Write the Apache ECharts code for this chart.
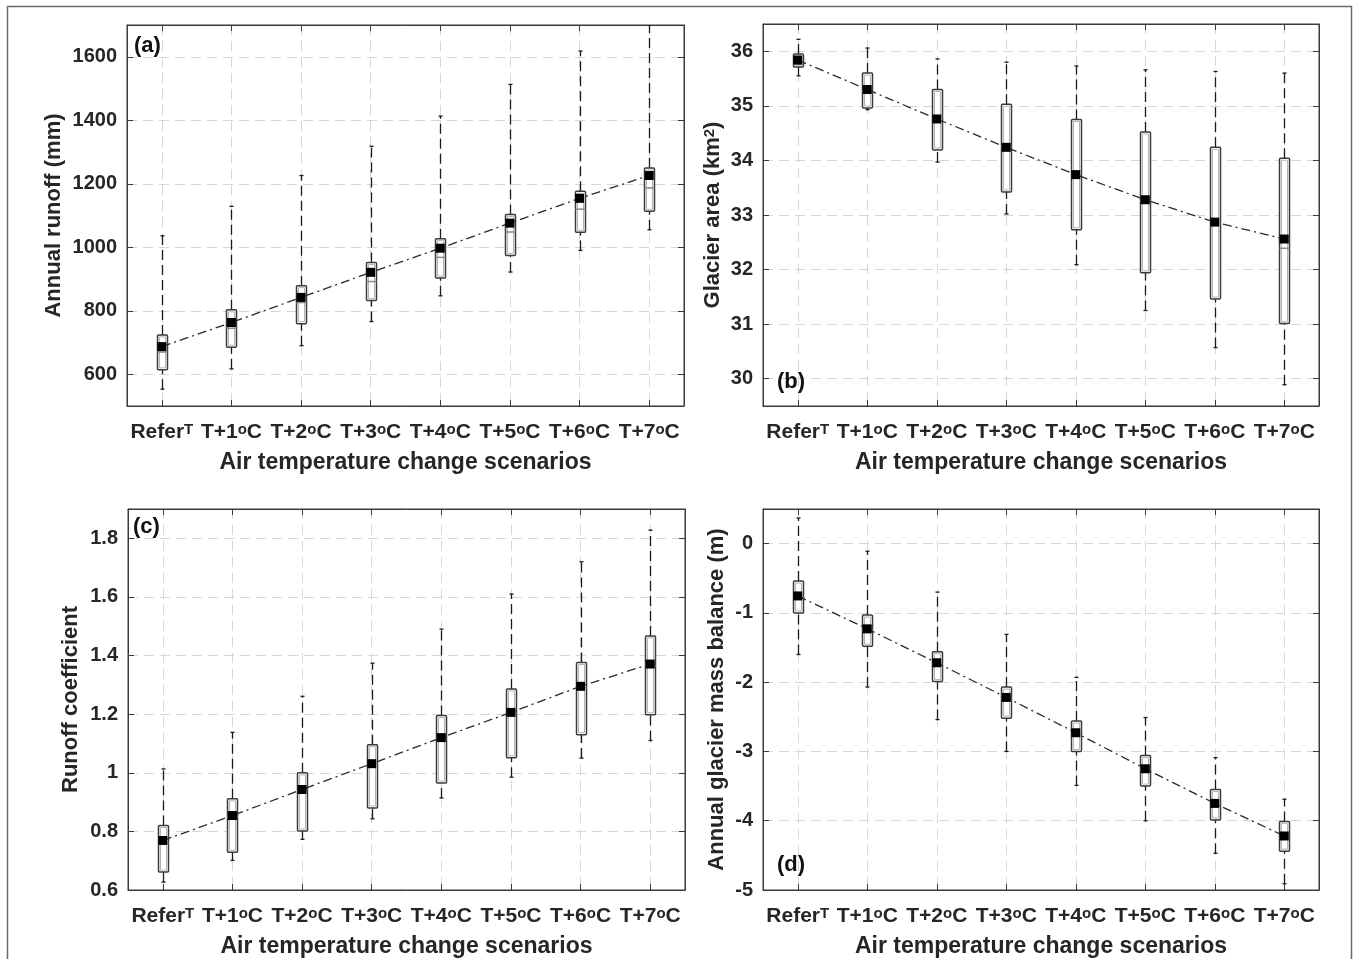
<!DOCTYPE html>
<html>
<head>
<meta charset="utf-8">
<title>Air temperature change scenarios</title>
<script src="https://cdn.jsdelivr.net/npm/echarts@6/dist/echarts.min.js"></script>
<style>
  html, body { margin: 0; padding: 0; background: #fff; }
  #chart { width: 1357px; height: 959px; }
</style>
</head>
<body>
<div id="chart"></div>
<script>
// Scenario tick labels (rich-text markup for the superscripts)
const scenarioLabels = ['Refer{sup|T}', 'T+1{sup|o}C', 'T+2{sup|o}C', 'T+3{sup|o}C',
                        'T+4{sup|o}C', 'T+5{sup|o}C', 'T+6{sup|o}C', 'T+7{sup|o}C'];

// (a) Annual runoff (mm)
const runoffLow    = [553, 617, 690, 766, 847, 922, 990, 1055];
const runoffQ1     = [614, 685, 759, 832, 903, 974, 1047, 1113];
const runoffMedian = [670, 745, 826, 892, 968, 1048, 1120, 1187];
const runoffQ3     = [724, 803, 879, 952, 1027, 1103, 1176, 1250];
const runoffHigh   = [1036, 1129, 1226, 1318, 1413, 1513, 1618, 1700];
const runoffMean   = [687, 763, 842, 921, 997, 1076, 1154, 1226];

// (b) Glacier area (km2)
const areaLow    = [35.55, 34.93, 33.97, 33.02, 32.09, 31.25, 30.57, 29.89];
const areaQ1     = [35.71, 34.96, 34.19, 33.42, 32.73, 31.94, 31.46, 31.01];
const areaMedian = [35.76, 35.26, 34.80, 34.25, 33.72, 33.26, 32.86, 32.39];
const areaQ3     = [35.95, 35.60, 35.30, 35.03, 34.75, 34.52, 34.24, 34.04];
const areaHigh   = [36.22, 36.06, 35.86, 35.80, 35.73, 35.66, 35.63, 35.60];
const areaMean   = [35.84, 35.30, 34.76, 34.24, 33.74, 33.28, 32.87, 32.56];

// (c) Runoff coefficient
const coefLow    = [0.627, 0.701, 0.773, 0.843, 0.914, 0.985, 1.050, 1.110];
const coefQ1     = [0.661, 0.729, 0.801, 0.880, 0.965, 1.051, 1.130, 1.198];
const coefMedian = [0.760, 0.850, 0.940, 1.030, 1.115, 1.200, 1.290, 1.365];
const coefQ3     = [0.820, 0.911, 1.000, 1.096, 1.195, 1.286, 1.376, 1.467];
const coefHigh   = [1.013, 1.138, 1.261, 1.374, 1.490, 1.610, 1.720, 1.828];
const coefMean   = [0.769, 0.854, 0.943, 1.031, 1.120, 1.206, 1.295, 1.371];

// (d) Annual glacier mass balance (m)
const balLow    = [-1.60, -2.07, -2.54, -3.00, -3.49, -4.00, -4.47, -4.91];
const balQ1     = [-1.00, -1.48, -1.99, -2.52, -3.00, -3.50, -3.99, -4.44];
const balMedian = [-0.78, -1.25, -1.74, -2.24, -2.75, -3.27, -3.77, -4.24];
const balQ3     = [-0.54, -1.03, -1.56, -2.07, -2.56, -3.06, -3.55, -4.01];
const balHigh   = [0.37, -0.11, -0.70, -1.31, -1.93, -2.51, -3.09, -3.69];
const balMean   = [-0.755, -1.23, -1.72, -2.22, -2.73, -3.25, -3.75, -4.22];

const FONT = '"Liberation Sans", Arial, Helvetica, sans-serif';
const TEXT = '#262626';

const panels = [
  { grid: { left: 127, top: 25, width: 557, height: 381 },
    y: { min: 500, max: 1700, splitNumber: 6, step: 200 },
    name: 'Annual runoff (mm)', nameGap: 62,
    low: runoffLow, q1: runoffQ1, med: runoffMedian, q3: runoffQ3, high: runoffHigh, mean: runoffMean },
  { grid: { left: 763, top: 24, width: 556, height: 382 },
    y: { min: 29.5, max: 36.5, splitNumber: 7, step: 1 },
    name: 'Glacier area (km{sup|2})', nameGap: 39,
    low: areaLow, q1: areaQ1, med: areaMedian, q3: areaQ3, high: areaHigh, mean: areaMean },
  { grid: { left: 128, top: 509, width: 557, height: 382 },
    y: { min: 0.6, max: 1.9, splitNumber: 6, step: 0.2 },
    name: 'Runoff coefficient', nameGap: 46,
    low: coefLow, q1: coefQ1, med: coefMedian, q3: coefQ3, high: coefHigh, mean: coefMean },
  { grid: { left: 763, top: 509, width: 556, height: 381 },
    y: { min: -5, max: 0.5, splitNumber: 5, step: 1 },
    name: 'Annual glacier mass balance (m)', nameGap: 35,
    low: balLow, q1: balQ1, med: balMedian, q3: balQ3, high: balHigh, mean: balMean }
];

const supStyle = { fontSize: 15, fontWeight: 'bold', fontFamily: FONT, color: TEXT, verticalAlign: 'top', lineHeight: 15 };

function isStep(v, step) {
  const r = v / step;
  return Math.abs(r - Math.round(r)) < 1e-6;
}

function renderBox(params, api) {
  const x = api.value(0);
  const pLow = api.coord([x, api.value(1)]);
  const pQ1 = api.coord([x, api.value(2)]);
  const pMed = api.coord([x, api.value(3)]);
  const pQ3 = api.coord([x, api.value(4)]);
  const pHigh = api.coord([x, api.value(5)]);
  const cx = Math.round(pQ1[0]) + 0.5;
  const hw = 5, cap = 2;
  const whisker = { stroke: '#1a1a1a', lineWidth: 1.3, lineDash: [10, 5] };
  return {
    type: 'group',
    children: [
      { type: 'line', shape: { x1: cx, y1: pQ3[1], x2: cx, y2: pHigh[1] }, style: whisker },
      { type: 'line', shape: { x1: cx, y1: pLow[1], x2: cx, y2: pQ1[1] }, style: whisker },
      { type: 'line', shape: { x1: cx - cap, y1: pHigh[1], x2: cx + cap, y2: pHigh[1] }, style: { stroke: '#1a1a1a', lineWidth: 1.3 } },
      { type: 'line', shape: { x1: cx - cap, y1: pLow[1], x2: cx + cap, y2: pLow[1] }, style: { stroke: '#1a1a1a', lineWidth: 1.3 } },
      { type: 'rect', shape: { x: cx - hw, y: pQ3[1], width: hw * 2, height: pQ1[1] - pQ3[1], r: 1 },
        style: { fill: '#fff', stroke: '#3a3a3a', lineWidth: 1.5 } },
      { type: 'rect', shape: { x: cx - hw + 2, y: pQ3[1] + 2, width: hw * 2 - 4, height: Math.max(0, pQ1[1] - pQ3[1] - 4) },
        style: { fill: 'none', stroke: '#b5b5b5', lineWidth: 1 } },
      { type: 'line', shape: { x1: cx - hw, y1: pMed[1], x2: cx + hw, y2: pMed[1] }, style: { stroke: '#8a8a8a', lineWidth: 1.5 } }
    ]
  };
}

const grid = [], xAxis = [], yAxis = [], series = [];

panels.forEach((p, i) => {
  grid.push(Object.assign({ show: true, borderColor: '#3a3a3a', borderWidth: 1, backgroundColor: '#fff' }, p.grid));

  // bottom axis: scenario index 1..8
  xAxis.push({
    type: 'value', gridIndex: i, min: 0.5, max: 8.5, splitNumber: 8,
    position: 'bottom',
    name: 'Air temperature change scenarios', nameLocation: 'middle', nameGap: 45,
    nameTextStyle: { fontFamily: FONT, fontWeight: 'bold', fontSize: 23, color: TEXT },
    axisLine: { show: true, onZero: false, lineStyle: { color: '#3a3a3a', width: 1 } },
    axisTick: { show: true, inside: true, length: 6, lineStyle: { color: '#3a3a3a' } },
    splitLine: { show: true, lineStyle: { color: '#d6d6d6', width: 1, type: [10, 6] } },
    axisLabel: {
      margin: 16, fontFamily: FONT, fontWeight: 'bold', fontSize: 21, color: TEXT,
      formatter: v => (isStep(v, 1) && v >= 1 && v <= 8) ? scenarioLabels[v - 1] : '',
      rich: { sup: supStyle }
    }
  });
  // mirrored ticks on top
  xAxis.push({
    type: 'value', gridIndex: i, min: 0.5, max: 8.5, splitNumber: 8, position: 'top',
    axisLine: { show: true, onZero: false, lineStyle: { color: '#3a3a3a' } },
    axisTick: { show: true, inside: true, length: 6, lineStyle: { color: '#3a3a3a' } },
    axisLabel: { show: false }, splitLine: { show: false }
  });

  yAxis.push({
    type: 'value', gridIndex: i, min: p.y.min, max: p.y.max, splitNumber: p.y.splitNumber,
    position: 'left',
    name: p.name, nameLocation: 'middle', nameGap: p.nameGap, nameRotate: 90,
    nameTextStyle: { fontFamily: FONT, fontWeight: 'bold', fontSize: 22, color: TEXT,
                     rich: { sup: { fontSize: 15, fontWeight: 'bold', fontFamily: FONT, color: TEXT, verticalAlign: 'top', lineHeight: 15 } } },
    axisLine: { show: true, onZero: false, lineStyle: { color: '#3a3a3a', width: 1 } },
    axisTick: { show: true, inside: true, length: 6, lineStyle: { color: '#3a3a3a' } },
    splitLine: { show: true, lineStyle: { color: '#d6d6d6', width: 1, type: [10, 6] } },
    axisLabel: {
      margin: 10, fontFamily: FONT, fontWeight: 'bold', fontSize: 20, color: TEXT,
      formatter: v => isStep(v, p.y.step) ? String(+v.toFixed(4)) : ''
    }
  });
  yAxis.push({
    type: 'value', gridIndex: i, min: p.y.min, max: p.y.max, splitNumber: p.y.splitNumber,
    position: 'right',
    axisLine: { show: true, onZero: false, lineStyle: { color: '#3a3a3a' } },
    axisTick: { show: true, inside: true, length: 6, lineStyle: { color: '#3a3a3a' } },
    axisLabel: { show: false }, splitLine: { show: false }
  });

  const rows = p.low.map((_, k) => [k + 1, p.low[k], p.q1[k], p.med[k], p.q3[k], p.high[k]]);
  series.push({
    type: 'custom', xAxisIndex: i * 2, yAxisIndex: i * 2, clip: true, z: 3,
    renderItem: renderBox, data: rows, silent: true
  });
  series.push({
    type: 'line', xAxisIndex: i * 2, yAxisIndex: i * 2, z: 5, silent: true,
    data: p.mean.map((v, k) => [k + 1, v]),
    symbol: 'rect', symbolSize: 9, showSymbol: true,
    itemStyle: { color: '#000' },
    lineStyle: { color: '#2a2a2a', width: 1.3, type: [9, 4, 2, 4] },
    animation: false
  });
});

const letterStyle = { fontFamily: FONT, fontWeight: 'bold', fontSize: 22, fill: '#111' };

const option = {
  animation: false,
  backgroundColor: '#fff',
  grid, xAxis, yAxis, series,
  graphic: [
    { type: 'rect', shape: { x: 7.5, y: 6.5, width: 1344, height: 1000 }, style: { fill: 'none', stroke: '#6a6a6a', lineWidth: 1.5 }, silent: true, z: 0 },
    { type: 'text', x: 134, y: 35, style: Object.assign({ text: '(a)' }, letterStyle), z: 10 },
    { type: 'text', x: 777, y: 371, style: Object.assign({ text: '(b)' }, letterStyle), z: 10 },
    { type: 'text', x: 133, y: 516, style: Object.assign({ text: '(c)' }, letterStyle), z: 10 },
    { type: 'text', x: 777, y: 854, style: Object.assign({ text: '(d)' }, letterStyle), z: 10 }
  ]
};

const chart = echarts.init(document.getElementById('chart'), null, { renderer: 'canvas' });
chart.setOption(option);
</script>
</body>
</html>
